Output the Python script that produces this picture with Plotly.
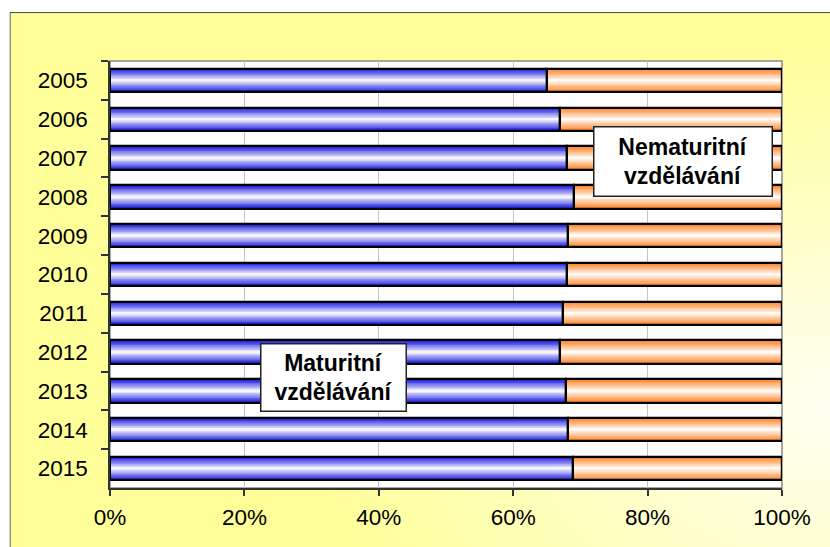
import base64
import plotly.graph_objects as go

# ---- data ----
years = ['2005', '2006', '2007', '2008', '2009', '2010', '2011', '2012', '2013', '2014', '2015']
maturitni = [65.1, 67.0, 68.0, 69.0, 68.2, 68.0, 67.4, 66.9, 67.9, 68.1, 68.9]
nematuritni = [34.9, 33.0, 32.0, 31.0, 31.8, 32.0, 32.6, 33.1, 32.1, 31.9, 31.1]
x_tick_vals = [0, 20, 40, 60, 80, 100]
x_tick_text = ['0%', '20%', '40%', '60%', '80%', '100%']

FONT = 'Liberation Sans, Arial, sans-serif'
BAR_W = 0.6
N_LAYERS = 14
BLUE_EDGE = (20, 20, 225)
ORANGE_EDGE = (255, 128, 32)


def mix(edge, t):
    r = round(255 + (edge[0] - 255) * t)
    g = round(255 + (edge[1] - 255) * t)
    b = round(255 + (edge[2] - 255) * t)
    return f'rgb({r},{g},{b})'


fig = go.Figure()

# gradient imitation: overlaid bars of decreasing thickness
for k in range(N_LAYERS):
    frac = 1 - k / N_LAYERS
    w = BAR_W * frac
    d_mid = 1 - (k + 0.5) / N_LAYERS
    t = d_mid ** 0.95
    fig.add_trace(go.Bar(
        y=years, x=maturitni, base=[0] * len(years), orientation='h', width=w,
        marker=dict(color=mix(BLUE_EDGE, t), line=dict(width=0)),
        showlegend=False, hoverinfo='skip'))
    fig.add_trace(go.Bar(
        y=years, x=nematuritni, base=maturitni, orientation='h', width=w,
        marker=dict(color=mix(ORANGE_EDGE, t), line=dict(width=0)),
        showlegend=False, hoverinfo='skip'))

# outlines on top
fig.add_trace(go.Bar(
    y=years, x=maturitni, base=[0] * len(years), orientation='h', width=BAR_W,
    marker=dict(color='rgba(0,0,0,0)', line=dict(color='black', width=2.2)),
    showlegend=False, name='Maturitní vzdělávání'))
fig.add_trace(go.Bar(
    y=years, x=nematuritni, base=maturitni, orientation='h', width=BAR_W,
    marker=dict(color='rgba(0,0,0,0)', line=dict(color='black', width=2.2)),
    showlegend=False, name='Nematuritní vzdělávání'))

# background (chart area with gradient)
svg = ('<svg xmlns="http://www.w3.org/2000/svg" width="840" height="560" viewBox="0 0 840 560">'
       '<defs><radialGradient id="g" cx="1.0" cy="0.7" r="0.65">'
       '<stop offset="0" stop-color="#FFFFF6"/><stop offset="1" stop-color="#FFFF99"/>'
       '</radialGradient></defs>'
       '<rect x="0.5" y="0.5" width="845" height="565" fill="url(#g)" stroke="#555555" stroke-width="1.2"/>'
       '</svg>')
src = 'data:image/svg+xml;base64,' + base64.b64encode(svg.encode()).decode()

L, R, T, B = 110, 48, 61, 59
PW, PH = 830 - L - R, 547 - T - B


def px(xp):
    return (xp - L) / PW


def py(yp):
    return (547 - B - yp) / PH


fig.add_layout_image(dict(
    source=src, xref='paper', yref='paper', x=px(9.5), y=py(12),
    sizex=840 / PW, sizey=560 / PH, sizing='stretch', xanchor='left', yanchor='top',
    layer='below'))

fig.add_shape(type='rect', xref='paper', yref='paper', x0=0, x1=1, y0=0, y1=1,
              fillcolor='white', line=dict(color='#8a8a8a', width=1.5), layer='below')

fig.add_annotation(xref='paper', yref='paper', x=px(682.7), y=py(161.5),
                   xanchor='center', yanchor='middle',
                   text='<b>Nematuritní<br>vzdělávání</b>', showarrow=False,
                   font=dict(family=FONT, size=23, color='black'),
                   bgcolor='white', bordercolor='#222222', borderwidth=1.5,
                   width=175, height=66, borderpad=1)
fig.add_annotation(xref='paper', yref='paper', x=px(333.5), y=py(377),
                   xanchor='center', yanchor='middle',
                   text='<b>Maturitní<br>vzdělávání</b>', showarrow=False,
                   font=dict(family=FONT, size=23, color='black'),
                   bgcolor='white', bordercolor='#222222', borderwidth=1.5,
                   width=142, height=64, borderpad=1)

fig.update_layout(
    width=830, height=547,
    margin=dict(l=L, r=R, t=T, b=B, pad=0),
    paper_bgcolor='white', plot_bgcolor='rgba(0,0,0,0)',
    barmode='overlay', bargap=0,
    font=dict(family=FONT, size=22.5, color='black'),
    xaxis=dict(range=[0, 100], tickvals=x_tick_vals, ticktext=x_tick_text,
               showgrid=True, gridcolor='#c4c4c4', gridwidth=1, zeroline=False,
               showline=True, linecolor='#333333', linewidth=1.5,
               ticks='outside', ticklen=6, tickcolor='#333333', tickwidth=1.5,
               ticklabelstandoff=2,
               tickfont=dict(size=22.5, color='black'), fixedrange=True),
    yaxis=dict(type='category', categoryorder='array', categoryarray=years,
               autorange='reversed', tickson='boundaries',
               showgrid=False, zeroline=False,
               showline=True, linecolor='#333333', linewidth=1.5,
               ticks='outside', ticklen=7, tickcolor='#333333', tickwidth=1.5,
               ticklabelstandoff=16,
               tickfont=dict(size=22.5, color='black'), fixedrange=True),
)

fig.write_html('out.html', config={'displayModeBar': False},
               post_script="document.body.style.margin='0';")
